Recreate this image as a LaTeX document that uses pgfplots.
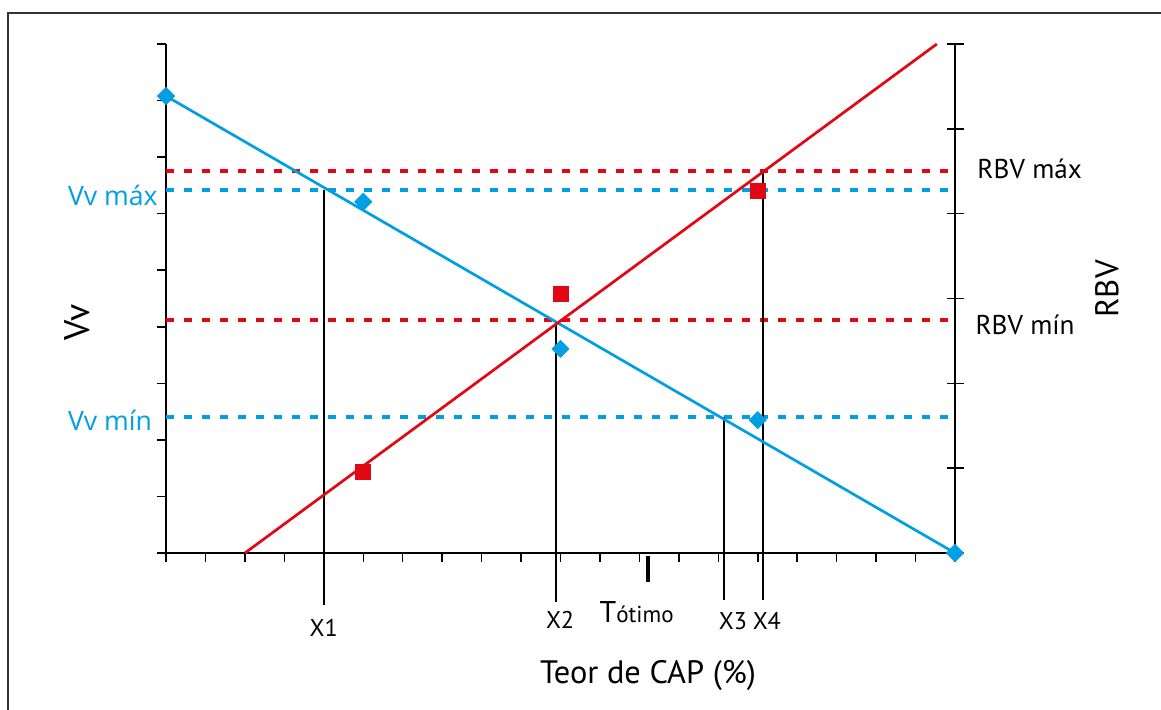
\documentclass[border=0pt]{standalone}
\usepackage{pgfplots}
\pgfplotsset{compat=1.18}
\usepackage{fontspec}
\setmainfont{PT Sans}
\newfontfamily\blfont{Open Sans}
\definecolor{cblue}{RGB}{0,159,227}
\definecolor{cred}{RGB}{227,6,19}
\newcommand{\fs}[1]{\fontsize{#1}{#1}\selectfont}
\begin{document}
\begin{tikzpicture}
% right axis (RBV)
\begin{axis}[
  scale only axis, width=394.5pt, height=254.5pt,
  xmin=0, xmax=20, ymin=0, ymax=6,
  axis y line*=right, axis x line=none,
  ytick={0,...,6}, yticklabels={},
  tick align=center, major tick length=8.5pt,
  tick style={line width=0.75pt, black},
  axis line style={line width=0.75pt, black},
]
\end{axis}
% main axis (Vv)
\begin{axis}[
  scale only axis, width=394.5pt, height=254.5pt,
  xmin=0, xmax=20, ymin=0, ymax=9,
  axis x line*=bottom, axis y line*=left,
  xtick={0,...,20}, ytick={0,...,9},
  xticklabels={}, yticklabels={},
  tick align=outside, major tick length=4.5pt,
  tick style={line width=0.75pt, black},
  axis line style={line width=0.75pt, black},
  clip=false,
]
% dotted limit lines
\addplot[cred, line width=2pt, dash pattern=on 4pt off 5pt] coordinates {(0,6.75) (20,6.75)};
\addplot[cred, line width=2pt, dash pattern=on 4pt off 5pt] coordinates {(0,4.12) (20,4.12)};
\addplot[cblue, line width=2pt, dash pattern=on 4pt off 5pt] coordinates {(0,6.42) (20,6.42)};
\addplot[cblue, line width=2pt, dash pattern=on 4pt off 5pt] coordinates {(0,2.40) (20,2.40)};
% vertical guide lines
\addplot[black, line width=1pt] coordinates {(4.0,6.42) (4.0,-0.92)};
\addplot[black, line width=1pt] coordinates {(9.89,4.10) (9.89,-0.87)};
\addplot[black, line width=1pt] coordinates {(14.14,2.40) (14.14,-0.83)};
\addplot[black, line width=1pt] coordinates {(15.14,6.75) (15.14,-0.83)};
% T otimo marker
\addplot[black, line width=2pt] coordinates {(12.21,-0.05) (12.21,-0.51)};
% trend lines
\addplot[cblue, line width=1.35pt] coordinates {(0,8.08) (20,0)};
\addplot[cred, line width=1.35pt] coordinates {(2,0) (19.54,9)};
% data markers
\addplot[only marks, mark=square*, mark size=3pt, mark options={rotate=45, fill=cblue, draw=cblue}] coordinates {(0,8.08) (5,6.21) (10,3.61) (15,2.35) (20,0)};
\addplot[only marks, mark=square*, mark size=3.75pt, mark options={fill=cred, draw=cred}] coordinates {(5,1.43) (10,4.58) (15,6.40)};
% labels
\node[anchor=west, inner sep=0, text=cblue, font=\blfont\fs{13.3}] at (axis cs:-2.49,6.33) {Vv máx};
\node[anchor=west, inner sep=0, text=cblue, font=\blfont\fs{13.3}] at (axis cs:-2.49,2.35) {Vv mín};
\node[anchor=west, inner sep=0, font=\fs{13.6}] at (axis cs:20.56,6.79) {RBV máx};
\node[anchor=west, inner sep=0, font=\fs{13.6}] at (axis cs:20.51,4.03) {RBV mín};
\node[rotate=90, inner sep=0, font=\fs{16.4}] at (axis cs:23.85,4.67) {RBV};
\node[rotate=90, inner sep=0, font=\fs{17.8}] at (axis cs:-2.24,4.08) {Vv};
\node[inner sep=0, font=\fs{12.1}] at (axis cs:4.0,-1.32) {X1};
\node[inner sep=0, font=\fs{12.1}] at (axis cs:9.99,-1.18) {X2};
\node[inner sep=0, font=\fs{12.1}] at (axis cs:14.37,-1.2) {X3};
\node[inner sep=0, font=\fs{12.1}] at (axis cs:15.23,-1.2) {X4};
\node[anchor=base, inner sep=0, font=\fs{15}] at (axis cs:11.93,-1.22) {T{\fs{11.5}ótimo}};
\node[anchor=base, inner sep=0, font=\fs{16.2}] at (axis cs:12.22,-2.30) {Teor de CAP (\%)};
\end{axis}
\pgfresetboundingbox
\useasboundingbox (-83pt,-78pt) rectangle (497.5pt,276.5pt);
\draw[line width=1pt, black!80] (505pt,270pt) -- (-79pt,270pt) -- (-79pt,-85pt);
\end{tikzpicture}
\end{document}
